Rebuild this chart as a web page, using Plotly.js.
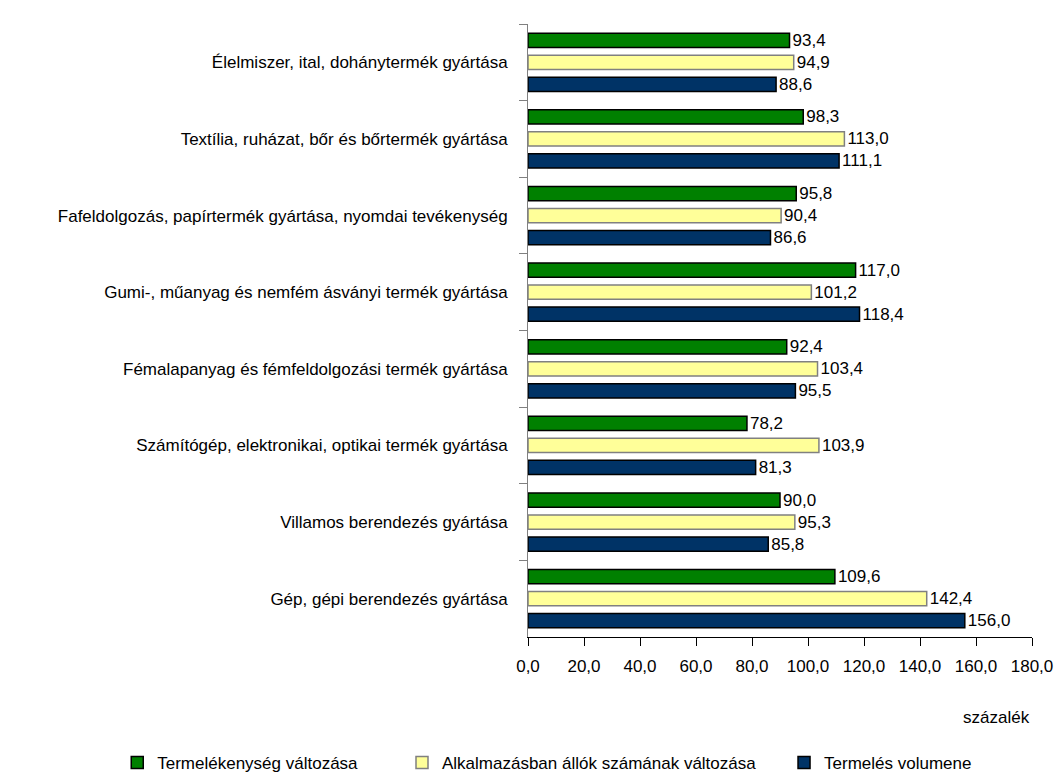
<!DOCTYPE html>
<html>
<head>
<meta charset="utf-8">
<script src="https://cdn.plot.ly/plotly-3.0.1.min.js"></script>
<style>html,body{margin:0;padding:0;background:#fff;}#chart{width:1059px;height:777px;}</style>
</head>
<body>
<div id="chart"></div>
<script>
const categories = [
  "Élelmiszer, ital, dohánytermék gyártása",
  "Textília, ruházat, bőr és bőrtermék gyártása",
  "Fafeldolgozás, papírtermék gyártása, nyomdai tevékenység",
  "Gumi-, műanyag és nemfém ásványi termék gyártása",
  "Fémalapanyag és fémfeldolgozási termék gyártása",
  "Számítógép, elektronikai, optikai termék gyártása",
  "Villamos berendezés gyártása",
  "Gép, gépi berendezés gyártása"
];
const seriesNames = [
  "Termelékenység változása",
  "Alkalmazásban állók számának változása",
  "Termelés volumene"
];
const termelekenyseg = [93.4, 98.3, 95.8, 117.0, 92.4, 78.2, 90.0, 109.6];
const alkalmazottak = [94.9, 113.0, 90.4, 101.2, 103.4, 103.9, 95.3, 142.4];
const volumen = [88.6, 111.1, 86.6, 118.4, 95.5, 81.3, 85.8, 156.0];
const xTitle = "százalék";

const FONT = "'Liberation Sans Narrow', 'Arial Narrow', 'Liberation Sans', Arial, sans-serif";
const fills = ["#008000", "#FFFF99", "#003366"];
const borders = ["#000000", "#808080", "#000000"];
const allValues = [termelekenyseg, alkalmazottak, volumen];
const legendIds = ["legend", "legend2", "legend3"];
const legendX = [-0.815, -0.25, 0.508];

const traces = allValues.map((vals, i) => ({
  type: "bar",
  orientation: "h",
  name: seriesNames[i],
  legend: legendIds[i],
  y: categories,
  x: vals,
  marker: {color: fills[i], line: {color: borders[i], width: 1.5}},
  texttemplate: "%{x:.1f}",
  textposition: "outside",
  constraintext: "none",
  cliponaxis: false,
  textfont: {family: FONT, size: 17, color: "#000"},
  hoverinfo: "x+name"
}));

const legendBase = (x) => ({
  orientation: "h",
  x: x, xanchor: "left",
  y: -0.176, yanchor: "top",
  font: {family: FONT, size: 17, color: "#000"},
  bgcolor: "rgba(0,0,0,0)",
  itemwidth: 30
});

const layout = {
  width: 1059, height: 777,
  margin: {l: 528, r: 27, t: 24, b: 140, autoexpand: false},
  paper_bgcolor: "#fff", plot_bgcolor: "#fff",
  separators: ",.",
  barmode: "group",
  bargap: 0.14,
  bargroupgap: 0.35,
  font: {family: FONT, size: 17, color: "#000"},
  showlegend: true,
  legend: legendBase(legendX[0]),
  legend2: legendBase(legendX[1]),
  legend3: legendBase(legendX[2]),
  xaxis: {
    range: [0, 180],
    dtick: 20, tick0: 0,
    tickformat: ".1f",
    showgrid: false, zeroline: false,
    showline: true, linecolor: "#000", linewidth: 1,
    ticks: "outside", ticklen: 8, tickcolor: "#000",
    tickfont: {family: FONT, size: 17, color: "#000"},
    ticklabelstandoff: 6,
    automargin: false
  },
  yaxis: {
    type: "category",
    autorange: "reversed",
    showgrid: false, zeroline: false,
    showline: true, linecolor: "#808080", linewidth: 1,
    ticks: "outside", ticklen: 8, tickcolor: "#808080",
    tickson: "boundaries",
    tickfont: {family: FONT, size: 17, color: "#000"},
    ticklabelstandoff: 16,
    automargin: false
  },
  annotations: [{
    text: xTitle, xref: "paper", yref: "paper",
    x: 1, xanchor: "right", y: -0.132, yanchor: "middle",
    showarrow: false, font: {family: FONT, size: 17, color: "#000"}
  }]
};

Plotly.newPlot("chart", traces, layout, {displayModeBar: false, responsive: false});
</script>
</body>
</html>
